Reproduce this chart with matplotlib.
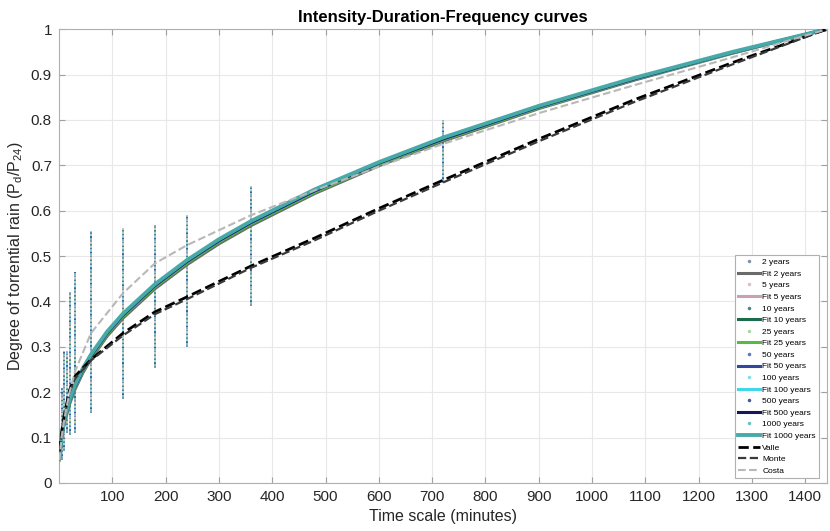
import matplotlib
matplotlib.use("Agg")
import matplotlib.pyplot as plt
from matplotlib.lines import Line2D

plt.rcParams['font.family'] = ['Liberation Sans', 'DejaVu Sans']

# observed ratios: vertical range of points at each duration (min)
durations = [5, 10, 15, 20, 30, 60, 120, 180, 240, 360, 720]
obs_min = [0.05, 0.07, 0.11, 0.105, 0.11, 0.155, 0.185, 0.253, 0.30, 0.39, 0.66]
obs_max = [0.21, 0.29, 0.29, 0.42, 0.465, 0.555, 0.562, 0.568, 0.59, 0.655, 0.80]

periods = ['2', '5', '10', '25', '50', '100', '500', '1000']
dot_colors = ['#7f93a8', '#d8c0cc', '#3f8a86', '#a8d8a0', '#5878c0', '#86dcea', '#4a5890', '#6cc0c4']
fit_colors = ['#6a6a6a', '#c9a0b4', '#1c6b4a', '#5cb845', '#3048a0', '#40d8e8', '#16165a', '#48aaa8']

# fitted curves P_d/P_24 vs duration
fit_t = [1, 5, 10, 20, 30, 45, 60, 90, 120, 180, 240, 300, 360, 480, 600, 720, 900, 1080, 1260, 1440]
fit_2y = [0.051, 0.099, 0.131, 0.174, 0.206, 0.243, 0.273, 0.323, 0.363, 0.428, 0.481, 0.527, 0.567, 0.638, 0.699, 0.753, 0.825, 0.888, 0.946, 1.0]
fit_low = [0.053, 0.101, 0.134, 0.178, 0.210, 0.247, 0.277, 0.327, 0.367, 0.432, 0.485, 0.531, 0.571, 0.641, 0.702, 0.756, 0.827, 0.890, 0.947, 1.0]
fit_mid = [0.055, 0.104, 0.137, 0.181, 0.213, 0.250, 0.280, 0.330, 0.370, 0.435, 0.488, 0.534, 0.574, 0.644, 0.705, 0.758, 0.829, 0.891, 0.948, 1.0]
fit_1000y = [0.057, 0.107, 0.140, 0.184, 0.216, 0.253, 0.283, 0.333, 0.373, 0.438, 0.491, 0.537, 0.577, 0.647, 0.707, 0.761, 0.831, 0.893, 0.949, 1.0]
fits = [fit_2y, fit_low, fit_low, fit_low, fit_mid, fit_mid, fit_mid, fit_1000y]

# regional curves
reg_t = [1, 5, 10, 20, 30, 60, 120, 180, 240, 360, 480, 600, 720, 900, 1080, 1260, 1440]
valle = [0.07, 0.11, 0.15, 0.205, 0.235, 0.272, 0.33, 0.377, 0.41, 0.478, 0.54, 0.605, 0.667, 0.758, 0.845, 0.925, 1.0]
monte = [0.07, 0.105, 0.145, 0.2, 0.23, 0.27, 0.325, 0.372, 0.405, 0.474, 0.535, 0.6, 0.662, 0.753, 0.84, 0.921, 1.0]
costa = [0.05, 0.10, 0.14, 0.2, 0.245, 0.33, 0.418, 0.484, 0.524, 0.59, 0.645, 0.697, 0.747, 0.815, 0.877, 0.937, 1.0]

fig = plt.figure(figsize=(8.3, 5.31), dpi=100)
ax = fig.add_axes([0.071, 0.0904, 0.925, 0.8546])

handles = []
for k, p in enumerate(periods):
    ax.vlines(durations, obs_min, obs_max, colors=dot_colors[k], lw=1.4,
              linestyles=[(k * 1.0, (1.0, 7.0))], zorder=2)
    handles.append(Line2D([], [], ls='none', marker='.', ms=3, color=dot_colors[k], label=p + ' years'))
    ln, = ax.plot(fit_t, fits[k], color=fit_colors[k], lw=2.2 if k < 7 else 2.8,
                  label='Fit ' + p + ' years', zorder=3)
    handles.append(ln)

l1, = ax.plot(reg_t, valle, '--', color='black', lw=2.0, label='Valle', zorder=4)
l2, = ax.plot(reg_t, monte, '--', color='#3a3a3a', lw=1.6, label='Monte', zorder=4)
l3, = ax.plot(reg_t, costa, '--', color='#b8b8b8', lw=1.5, label='Costa', zorder=4)
handles += [l1, l2, l3]

ax.set_xlim(0, 1440)
ax.set_ylim(0, 1)
ax.set_xticks(range(100, 1500, 100))
ax.set_yticks([i / 10 for i in range(11)])
ax.set_yticklabels(['0', '0.1', '0.2', '0.3', '0.4', '0.5', '0.6', '0.7', '0.8', '0.9', '1'])
ax.grid(True, color='#e8e8e8', lw=0.8)
ax.set_axisbelow(True)
ax.tick_params(direction='in', top=True, right=True, length=4, color='#a0a0a0',
               labelsize=11, labelcolor='#262626', pad=5)
for s in ax.spines.values():
    s.set_color('#b0b0b0')

ax.set_title('Intensity-Duration-Frequency curves', fontsize=12, fontweight='bold', pad=5)
ax.set_xlabel('Time scale (minutes)', fontsize=11.5, color='#262626', labelpad=4)
ax.set_ylabel('Degree of torrential rain (P$_\\mathregular{d}$/P$_\\mathregular{24}$)',
              fontsize=11.5, color='#262626', labelpad=4)

leg = ax.legend(handles=handles, loc='lower right', bbox_to_anchor=(0.99, 0.011),
                fontsize=6, handlelength=2.6, labelspacing=0.45, borderpad=0.4,
                handletextpad=0.3, fancybox=False, framealpha=1, edgecolor='#b0b0b0',
                borderaxespad=0)
leg.get_frame().set_linewidth(0.8)

fig.savefig('out.png', dpi=100)
